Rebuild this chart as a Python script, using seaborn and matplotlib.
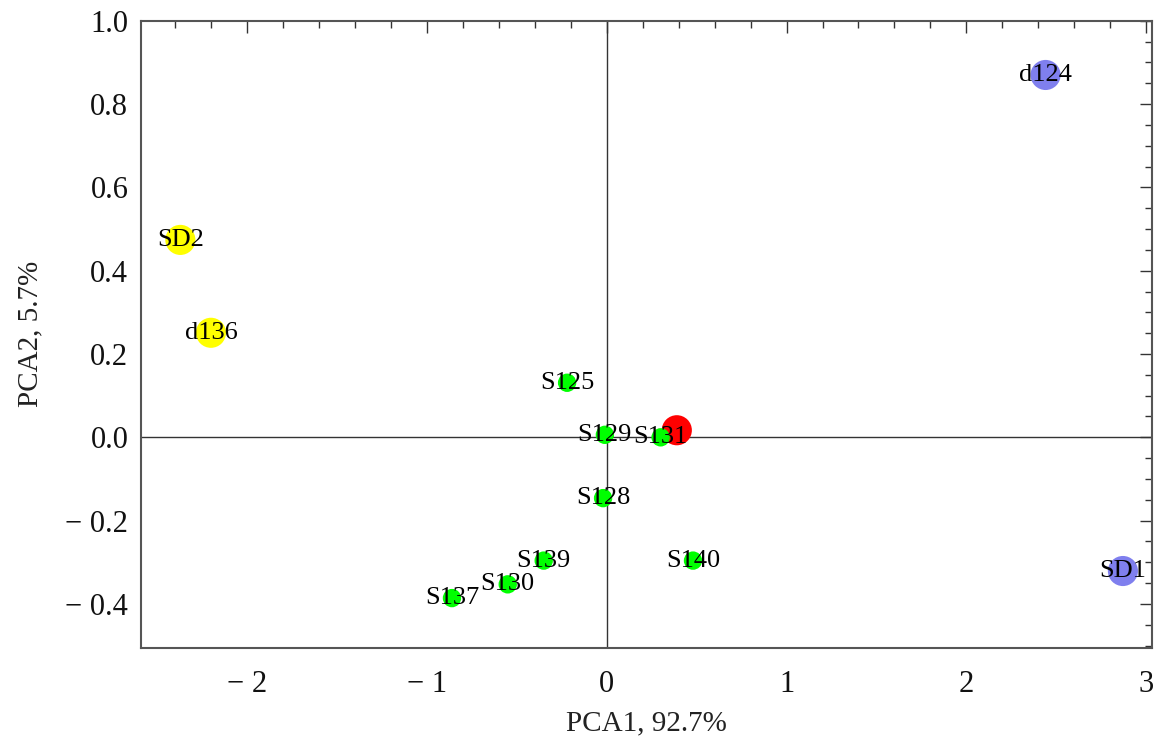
import pandas as pd
import matplotlib
matplotlib.use("Agg")
import matplotlib.pyplot as plt
import seaborn as sns
from matplotlib.ticker import MultipleLocator, FuncFormatter

# sample scores on the first two principal components
labels = ["d124", "SD1", "SD2", "d136", "", "S125", "S129", "S131",
          "S128", "S139", "S130", "S137", "S140"]
pca1 = [2.44, 2.87, -2.37, -2.20, 0.39, -0.22, -0.01, 0.30,
        -0.02, -0.35, -0.55, -0.86, 0.48]
pca2 = [0.870, -0.321, 0.474, 0.251, 0.017, 0.131, 0.006, 0.000,
        -0.146, -0.296, -0.353, -0.386, -0.296]
groups = ["blue", "blue", "yellow", "yellow", "red", "green", "green", "green",
          "green", "green", "green", "green", "green"]

group_colors = {"red": "#ff0000", "green": "#00ff00",
                "yellow": "#ffff00", "blue": "#7f7fee"}
group_sizes = {"red": 470, "green": 175, "yellow": 470, "blue": 470}

df = pd.DataFrame({"label": labels, "PCA1": pca1, "PCA2": pca2, "group": groups})

sns.set_style("white")
plt.rcParams["font.family"] = ["Liberation Serif", "DejaVu Serif"]

fig = plt.figure(figsize=(11.54, 7.44), dpi=100)
ax = fig.add_axes([0.122, 0.1295, 0.876, 0.8425])

ax.axvline(0, color="#333333", lw=1.0, zorder=1)
ax.axhline(0, color="#333333", lw=1.0, zorder=1)

# draw red/yellow/blue first, green on top
for g in ["red", "yellow", "blue", "green"]:
    sub = df[df["group"] == g]
    sns.scatterplot(data=sub, x="PCA1", y="PCA2", ax=ax, color=group_colors[g],
                    s=group_sizes[g], edgecolor="none", linewidth=0, zorder=2,
                    legend=False)

for _, r in df.iterrows():
    if r["label"]:
        ax.text(r["PCA1"], r["PCA2"], r["label"], ha="center", va="center",
                fontsize=19, color="black", zorder=3)

ax.set_xlim(-2.59, 3.03)
ax.set_ylim(-0.505, 1.0)

ax.xaxis.set_major_locator(MultipleLocator(1))
ax.xaxis.set_minor_locator(MultipleLocator(0.2))
ax.yaxis.set_major_locator(MultipleLocator(0.2))
ax.yaxis.set_minor_locator(MultipleLocator(0.05))


def fmt_x(v, pos):
    v = int(round(v))
    return f"\u2212 {abs(v)}" if v < 0 else f"{v}"


def fmt_y(v, pos):
    if abs(v) < 1e-9:
        return "0.0"
    return f"\u2212 {abs(v):.1f}" if v < 0 else f"{v:.1f}"


ax.xaxis.set_major_formatter(FuncFormatter(fmt_x))
ax.yaxis.set_major_formatter(FuncFormatter(fmt_y))

ax.tick_params(which="both", direction="in", top=True, right=True,
               labeltop=False, labelright=False, color="#333333",
               labelcolor="#111111")
ax.tick_params(which="major", length=8.5, width=1.0, labelsize=22)
ax.tick_params(axis="x", which="major", pad=16)
ax.tick_params(axis="y", which="major", pad=9)
ax.tick_params(which="minor", length=4.8, width=1.0)

for sp in ax.spines.values():
    sp.set_color("#555555")
    sp.set_linewidth(1.5)

ax.set_xlabel("PCA1, 92.7%", fontsize=21, labelpad=8, color="#222222")
ax.set_ylabel("PCA2, 5.7%", fontsize=21, labelpad=16, color="#222222")

fig.savefig("out.png", dpi=100)
